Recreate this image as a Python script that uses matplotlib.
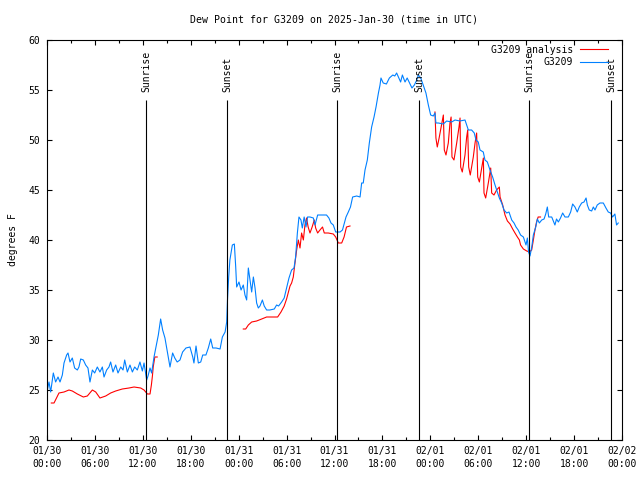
import matplotlib
matplotlib.use("Agg")
import matplotlib.pyplot as plt
import numpy as np

# hours since 2025-01-30 00:00 UTC
g3209_hours = [0.04, 0.25, 0.46, 0.79, 1.08, 1.38, 1.63, 1.92, 2.13, 2.46, 2.63, 2.88, 3.17, 3.46,
               3.80, 4.00, 4.22, 4.55, 4.84, 5.13, 5.38, 5.68, 5.97, 6.30, 6.63, 6.93, 7.14, 7.47,
               7.76, 7.97, 8.26, 8.60, 8.89, 9.23, 9.52, 9.73, 10.06, 10.39, 10.69, 10.98, 11.31,
               11.64, 11.94, 12.15, 12.48, 12.65, 12.90, 13.10, 13.40, 13.65, 13.94, 14.23, 14.48,
               14.77, 15.07, 15.40, 15.73, 16.00, 16.30, 16.65, 16.98, 17.40, 17.90, 18.25, 18.40,
               18.66, 18.95, 19.25, 19.50, 19.90, 20.20, 20.50, 20.75, 21.17, 21.67, 21.96, 22.30,
               22.50, 22.60, 22.75, 22.90, 23.21, 23.46, 23.63, 23.75, 24.04, 24.30, 24.58, 24.79,
               25.00, 25.21, 25.42, 25.63, 25.84, 26.05, 26.25, 26.46, 26.67, 26.97, 27.20, 27.50,
               27.90, 28.46, 28.75, 29.00, 29.38, 29.70, 30.00, 30.30, 30.63, 30.93, 31.13, 31.35,
               31.55, 31.80, 31.97, 32.20, 32.43, 32.63, 32.93, 33.35, 33.56, 33.89, 34.40, 35.00,
               35.30, 35.56, 35.85, 36.15, 36.70, 37.00, 37.23, 37.44, 37.73, 38.00, 38.27, 38.78,
               39.20, 39.40, 39.60, 39.82, 40.11, 40.36, 40.65, 40.95, 41.20, 41.50, 41.70, 41.82,
               42.10, 42.50, 42.87, 43.30, 43.55, 43.78, 44.00, 44.28, 44.50, 44.83, 45.10, 45.40,
               45.70, 46.00, 46.30, 46.50, 46.80, 47.10, 47.45, 47.75, 48.04, 48.37, 48.58, 48.70,
               49.00, 49.63, 50.04, 50.67, 51.09, 51.70, 52.34, 52.55, 52.76, 53.17, 53.50, 53.72,
               54.00, 54.22, 54.63, 54.84, 55.14, 55.47, 55.80, 56.10, 56.39, 56.64, 56.93, 57.23,
               57.56, 57.85, 58.19, 58.48, 58.73, 59.00, 59.30, 59.65, 59.98, 60.15, 60.30, 60.48,
               60.70, 60.90, 61.20, 61.40, 61.65, 61.95, 62.24, 62.45, 62.65, 62.82, 63.20, 63.60,
               63.80, 64.03, 64.30, 64.57, 64.86, 65.28, 65.57, 65.82, 66.11, 66.40, 66.65, 66.95,
               67.24, 67.50, 67.66, 67.90, 68.20, 68.41, 68.62, 68.90, 69.24, 69.66, 69.99, 70.28,
               70.57, 70.82, 71.11, 71.32, 71.53]
g3209_dewpt = [25.0, 25.8, 24.8, 26.7, 25.8, 26.3, 25.8, 26.5, 27.7, 28.5, 28.7, 27.8, 28.2, 27.2,
               27.0, 27.3, 28.1, 28.0, 27.5, 27.2, 25.8, 27.0, 26.7, 27.3, 26.8, 27.3, 26.3, 27.0,
               27.3, 27.8, 26.8, 27.5, 26.7, 27.3, 27.0, 28.0, 26.8, 27.5, 26.8, 27.3, 27.0,
               27.8, 26.9, 27.7, 26.0, 26.4, 27.2, 26.7, 28.3, 29.3, 30.5, 32.1, 31.0,
               30.2, 28.8, 27.3, 28.7, 28.2, 27.8, 28.0, 28.8, 29.2, 29.3, 28.3, 27.7,
               29.4, 27.7, 27.8, 28.5, 28.5, 29.2, 30.1, 29.2, 29.2, 29.1, 30.3, 30.8,
               31.8, 34.0, 36.3, 38.0, 39.5, 39.6, 37.3, 35.3, 35.8, 35.0, 35.5, 34.5,
               34.0, 37.2, 36.0, 34.8, 36.3, 35.2, 33.7, 33.2, 33.4, 34.0, 33.4, 33.0,
               33.0, 33.1, 33.5, 33.4, 33.8, 34.2, 35.2, 36.2, 37.0, 37.2, 38.3, 40.7,
               42.3, 42.0, 41.2, 42.3, 41.3, 42.3, 42.3, 42.2, 41.5, 42.5, 42.5, 42.5,
               42.2, 41.7, 41.5, 40.8, 40.8, 41.0, 41.7, 42.3, 42.8, 43.3, 44.3, 44.4,
               44.3, 45.7, 45.7, 47.0, 48.0, 49.7, 51.3, 52.3, 53.3, 54.7, 55.5, 56.2,
               55.7, 55.6, 56.2, 56.5, 56.4, 56.7, 56.3, 55.8, 56.5, 55.8, 56.2, 55.7,
               55.2, 55.5, 56.0, 56.5, 56.2, 55.5, 54.7, 53.5, 52.5, 52.4, 52.7, 51.7,
               51.7, 51.6, 51.9, 51.8, 52.0, 51.9, 52.0, 51.5, 51.0, 51.0, 50.7, 50.0,
               49.8, 49.0, 48.8, 48.0, 47.8, 47.0, 46.3, 45.5, 44.8, 44.2, 43.7, 43.0,
               42.7, 42.8, 42.0, 41.7, 41.3, 41.0, 40.5, 40.3, 39.5, 40.2, 38.8, 38.4,
               39.3, 40.5, 41.3, 42.1, 41.7, 42.0, 42.1, 42.6, 43.3, 42.3, 42.3, 41.5,
               42.1, 41.8, 42.2, 42.7, 42.3, 42.3, 42.8, 43.6, 43.3, 42.8, 43.3, 43.7,
               43.8, 44.2, 43.5, 43.0, 42.9, 43.3, 43.0, 43.5, 43.7, 43.7, 43.2, 42.8,
               42.7, 42.3, 42.6, 41.5, 41.7]

# analysis runs (three separate pieces)
anl_hours_1 = [0.54, 0.88, 1.50, 2.13, 2.75, 3.17, 3.80, 4.55, 5.05, 5.68, 6.10, 6.63, 7.35, 7.97,
               8.60, 9.43, 10.27, 10.90, 11.73, 12.15, 12.57, 12.90, 13.07, 13.20, 13.30, 13.50, 13.80]
anl_dewpt_1 = [23.7, 23.7, 24.7, 24.8, 25.0, 24.9, 24.6, 24.3, 24.4, 25.0, 24.8, 24.2, 24.4, 24.7,
               24.9, 25.1, 25.2, 25.3, 25.2, 25.0, 24.6, 24.6, 25.5, 26.4, 27.3, 28.3, 28.3]
anl_hours_2 = [24.58, 24.88, 25.21, 25.63, 26.25, 26.88, 27.50, 28.88, 29.30, 29.70, 30.00, 30.43,
               30.63, 30.84, 31.05, 31.26, 31.47, 31.68, 31.88, 32.10, 32.30, 32.50, 32.70, 32.93,
               33.20, 33.47, 33.64, 33.89, 34.18, 34.50, 34.72, 35.22, 35.85, 36.15, 36.48, 36.90,
               37.20, 37.50, 37.94]
anl_dewpt_2 = [31.1, 31.1, 31.5, 31.8, 31.9, 32.1, 32.3, 32.3, 32.8, 33.4, 34.1, 35.4,
               35.7, 36.3, 37.7, 39.0, 40.0, 39.2, 40.7, 40.0, 41.5, 42.2, 41.3, 40.7,
               41.3, 42.0, 41.2, 40.7, 41.0, 41.3, 40.7, 40.7, 40.6, 40.3, 39.7, 39.7,
               40.3, 41.3, 41.4]
anl_hours_3 = [48.58, 48.70, 48.87, 49.10, 49.40, 49.63, 49.75, 49.96, 50.25, 50.46, 50.60, 50.71,
               50.96, 51.30, 51.59, 51.72, 51.80, 52.00, 52.34, 52.55, 52.68, 52.80, 53.00, 53.38,
               53.60, 53.80, 53.93, 54.14, 54.43, 54.64, 54.72, 54.93, 55.26, 55.56, 55.68, 55.97,
               56.30, 56.64, 56.73, 57.06, 57.35, 57.65, 57.98, 58.31, 58.60, 58.90, 59.15, 59.30,
               59.65, 60.07, 60.40, 60.69, 60.90, 61.10, 61.30, 61.50, 61.80]
anl_dewpt_3 = [52.8, 50.2, 49.3, 50.2, 51.5, 52.5, 49.0, 48.5, 49.7, 51.7, 52.3, 48.3,
               48.0, 49.7, 51.3, 52.2, 47.3, 46.8, 48.5, 50.3, 51.0, 47.3, 46.5, 48.3,
               49.7, 50.7, 46.3, 45.8, 47.2, 48.2, 44.7, 44.2, 45.7, 47.2, 44.7, 44.5,
               45.0, 45.3, 44.3, 43.5, 42.5, 41.9, 41.6, 41.1, 40.7, 40.3, 40.0, 39.5,
               39.1, 38.9, 38.8, 39.0, 40.0, 41.0, 41.8, 42.3, 42.3]

sun_hours = [12.43, 22.58, 36.33, 46.62, 60.39, 70.66]
sun_labels = ["Sunrise", "Sunset", "Sunrise", "Sunset", "Sunrise", "Sunset"]

tick_hours = list(range(0, 73, 6))
tick_labels = ["01/30\n00:00", "01/30\n06:00", "01/30\n12:00", "01/30\n18:00",
               "01/31\n00:00", "01/31\n06:00", "01/31\n12:00", "01/31\n18:00",
               "02/01\n00:00", "02/01\n06:00", "02/01\n12:00", "02/01\n18:00",
               "02/02\n00:00"]

plt.rcParams['font.family'] = 'DejaVu Sans Mono'
plt.rcParams['font.size'] = 7

fig = plt.figure(figsize=(6.4, 4.8), dpi=100)
ax = fig.add_axes([47 / 640, 40 / 480, 575 / 640, 400 / 480])

ax.plot(anl_hours_1, anl_dewpt_1, color='#ff0000', lw=0.8, label='G3209 analysis')
ax.plot(anl_hours_2, anl_dewpt_2, color='#ff0000', lw=0.8)
ax.plot(anl_hours_3, anl_dewpt_3, color='#ff0000', lw=0.8)
ax.plot(g3209_hours, g3209_dewpt, color='#0080ff', lw=0.8, label='G3209')

for h, name in zip(sun_hours, sun_labels):
    ax.vlines(h, 20, 54, color='black', lw=0.8)
    ax.text(h, 54.8, name, rotation=90, ha='center', va='bottom', fontsize=7)

ax.set_xlim(0, 72)
ax.set_ylim(20, 60)
ax.set_xticks(tick_hours)
ax.set_xticklabels(tick_labels)
for lab in ax.get_xticklabels():
    lab.set_linespacing(1.35)
ax.set_xticks(np.arange(0, 73, 3), minor=True)
ax.set_yticks(np.arange(20, 61, 5))
ax.tick_params(which='both', direction='in', top=True, right=True, width=0.8)
ax.tick_params(which='major', length=3.5)
ax.tick_params(which='minor', length=2.2)
ax.tick_params(axis='y', pad=5)
ax.tick_params(axis='x', pad=4.5)
for s in ax.spines.values():
    s.set_linewidth(0.8)

ax.set_ylabel('degrees F')
ax.yaxis.set_label_coords(-0.051, 0.5)
fig.text(334.5 / 640, 1 - 19 / 480, 'Dew Point for G3209 on 2025-Jan-30 (time in UTC)',
         ha='center', va='center', fontsize=7.1)

ax.legend(loc='upper right', frameon=False, markerfirst=False, fontsize=7,
          handlelength=2.9, handletextpad=0.7, labelspacing=0.25,
          borderaxespad=0.3, bbox_to_anchor=(1 - 7 / 575, 1 + 2 / 400))

fig.savefig('out.png', dpi=100)
